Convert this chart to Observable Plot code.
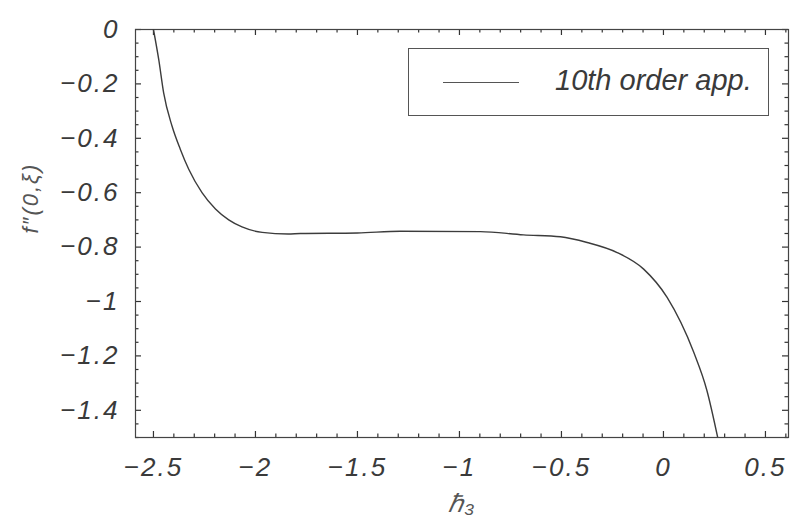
<!DOCTYPE html>
<html>
<head>
<meta charset="utf-8">
<script src="https://cdn.jsdelivr.net/npm/d3@7"></script>
<script src="https://cdn.jsdelivr.net/npm/@observablehq/plot@0.6"></script>
<style>
  html, body { margin: 0; padding: 0; background: #fff; }
  #wrap { position: relative; width: 797px; height: 518px; }
  #legend {
    position: absolute; left: 408px; top: 48px; width: 361px; height: 68px;
    border: 1px solid #555; background: #fff; box-sizing: border-box;
    font-family: "Liberation Sans", Arial, sans-serif; font-style: italic;
  }
  #legend .ln { position: absolute; left: 34px; top: 33px; width: 76px; height: 0; border-top: 1.3px solid #555; }
  #legend .tx { position: absolute; left: 146px; top: 14px; font-size: 29px; line-height: 34px; color: #3a3a3a; white-space: nowrap; }
</style>
</head>
<body>
<div id="wrap"></div>
<script>
// ℏ-curve: f''(0) vs ℏ3 (10th order approximation)
const hbar = [-2.5, -2.474, -2.45, -2.409, -2.368, -2.327, -2.262, -2.196, -2.131, -2.066, -1.967, -1.84, -1.78, -1.5, -1.29, -0.897, -0.686, -0.505, -0.374, -0.227, -0.097, 0.018, 0.148, 0.213, 0.266];
const fpp  = [0, -0.111, -0.233, -0.355, -0.441, -0.514, -0.600, -0.660, -0.700, -0.726, -0.746, -0.752, -0.750, -0.748, -0.742, -0.743, -0.755, -0.762, -0.783, -0.820, -0.881, -0.985, -1.186, -1.327, -1.5];
const xMajor = [-2.5, -2, -1.5, -1, -0.5, 0, 0.5];
const yMajor = [0, -0.2, -0.4, -0.6, -0.8, -1, -1.2, -1.4];
const xMinor = d3.range(-25, 7).map(i => i / 10);
const yMinor = d3.range(0, 31).map(i => -i * 0.05);
const legendLabel = "10th order app.";
const xLabel = "ℏ₃";
const yLabel = "f″(0,ξ)";

const xDomain = [-2.588, 0.613];
const yDomain = [-1.5, 0];
const data = hbar.map((x, i) => ({x, y: fpp[i]}));
const fmt = v => (Math.abs(v) < 1e-9 ? "0" : (v < 0 ? "−" : "") + String(Math.abs(+v.toFixed(2))));
const ink = "#333";
// tick lengths expressed in data units (derived from the scale spans)
const W = 797 - 135 - 9, H = 518 - 29 - 81;
const kx = (xDomain[1] - xDomain[0]) / W, ky = (yDomain[1] - yDomain[0]) / H;
const isMajX = v => xMajor.some(m => Math.abs(m - v) < 1e-9);
const isMajY = v => yMajor.some(m => Math.abs(m - v) < 1e-9);

const chart = Plot.plot({
  width: 797,
  height: 518,
  marginLeft: 135,
  marginRight: 9,
  marginTop: 29,
  marginBottom: 81,
  style: {fontFamily: "'Liberation Sans', Arial, sans-serif", fontStyle: "italic", color: "#3a3a3a", background: "#fff"},
  x: {domain: xDomain},
  y: {domain: yDomain},
  marks: [
    Plot.axisX(xMajor, {anchor: "bottom", tickSize: 0, tickPadding: 20, tickFormat: fmt, fontSize: 26, label: null}),
    Plot.axisY(yMajor, {anchor: "left", tickSize: 0, tickPadding: 16, tickFormat: fmt, fontSize: 26, label: null}),
    // inward frame ticks on all four sides
    Plot.ruleX(xMinor, {y1: yDomain[0], y2: d => yDomain[0] + (isMajX(d) ? 6 : 3.5) * ky, stroke: ink, strokeWidth: 1.2}),
    Plot.ruleX(xMinor, {y1: yDomain[1], y2: d => yDomain[1] - (isMajX(d) ? 6 : 3.5) * ky, stroke: ink, strokeWidth: 1.2}),
    Plot.ruleY(yMinor, {x1: xDomain[0], x2: d => xDomain[0] + (isMajY(d) ? 6 : 3.5) * kx, stroke: ink, strokeWidth: 1.2}),
    Plot.ruleY(yMinor, {x1: xDomain[1], x2: d => xDomain[1] - (isMajY(d) ? 6 : 3.5) * kx, stroke: ink, strokeWidth: 1.2}),
    Plot.frame({stroke: "#444", strokeWidth: 1.2}),
    Plot.line(data, {x: "x", y: "y", stroke: "#3c3c3c", strokeWidth: 1.4, curve: "monotone-x", clip: true}),
    Plot.text([xLabel], {frameAnchor: "bottom", dy: 74, fontSize: 25, fill: "#555"}),
    Plot.text([yLabel], {frameAnchor: "left", dx: -105, rotate: -90, fontSize: 22, fill: "#555"})
  ]
});
chart.querySelectorAll("text").forEach(t => t.setAttribute("letter-spacing", "2"));
const wrap = document.getElementById("wrap");
wrap.appendChild(chart);
const lg = document.createElement("div");
lg.id = "legend";
lg.innerHTML = `<div class="ln"></div><div class="tx"></div>`;
lg.querySelector(".tx").textContent = legendLabel;
wrap.appendChild(lg);
</script>
</body>
</html>
